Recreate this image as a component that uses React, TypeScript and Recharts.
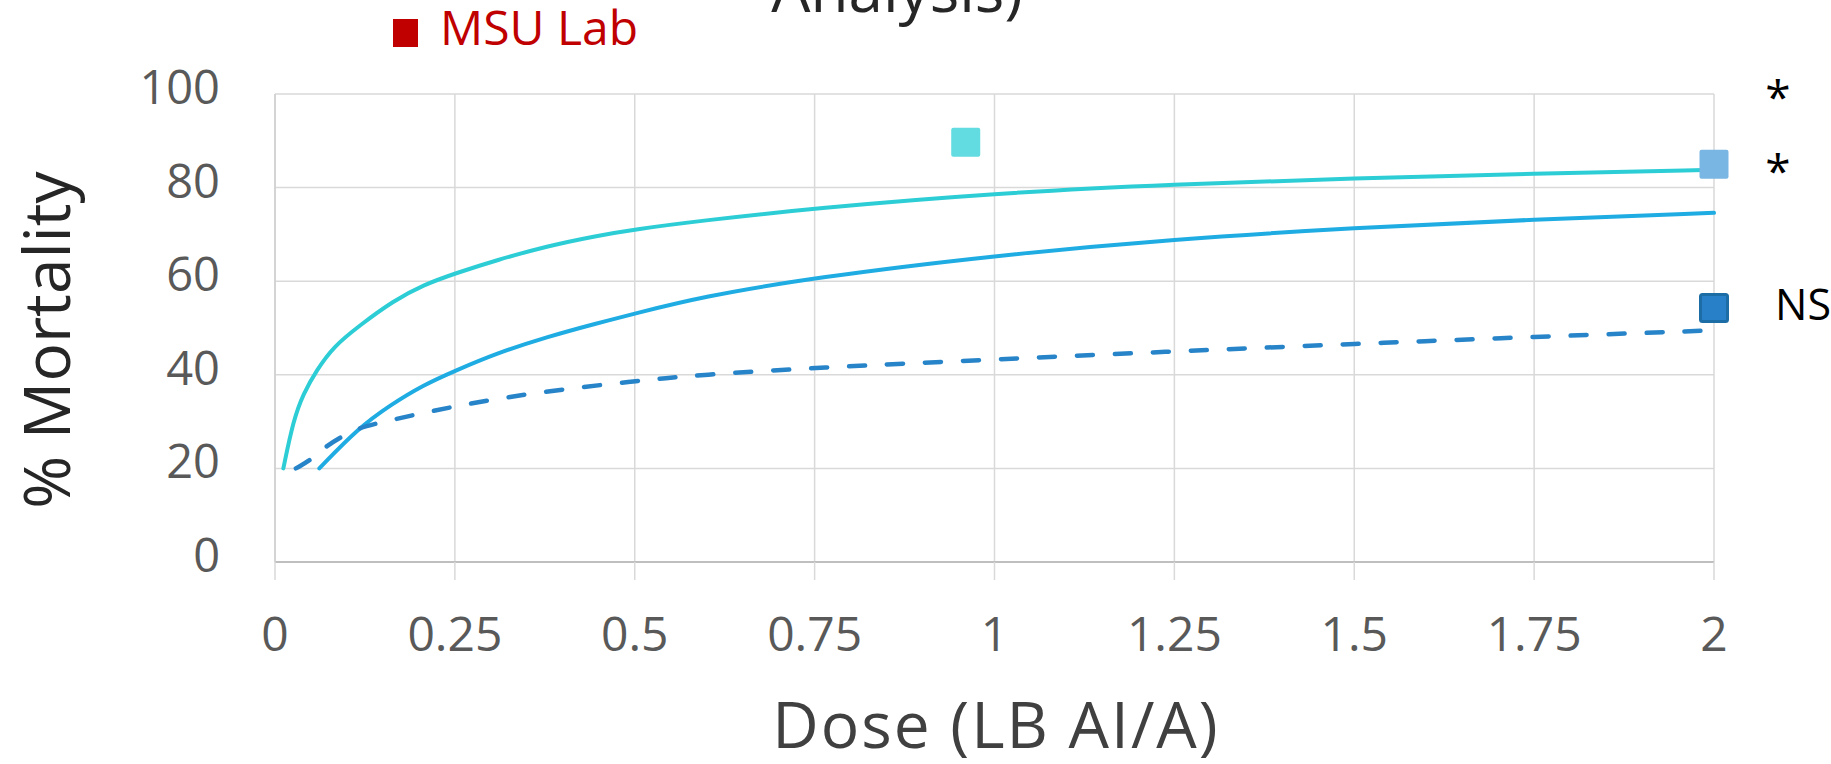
import React from "react";
import {
  CartesianGrid,
  ComposedChart,
  Customized,
  Line,
  ReferenceDot,
  Scatter,
  XAxis,
  YAxis,
} from "recharts";

const doseTicks = [0, 0.25, 0.5, 0.75, 1, 1.25, 1.5, 1.75, 2];
const mortalityTicks = [0, 20, 40, 60, 80, 100];

// fitted curves
const tealDose = [0.0116, 0.0255, 0.0394, 0.058, 0.081, 0.118, 0.1645, 0.206, 0.251, 0.308, 0.378, 0.447, 0.501, 0.591, 0.75, 1, 1.25, 1.5, 1.75, 2];
const tealMortality = [20, 30.3, 36, 41, 46, 50.6, 55.8, 59.2, 61.7, 64.5, 67.5, 69.7, 71.1, 72.9, 75.6, 78.8, 80.7, 82, 83, 83.8];

const blueDose = [0.0616, 0.1158, 0.16, 0.206, 0.251, 0.308, 0.378, 0.447, 0.501, 0.591, 0.75, 1, 1.25, 1.5, 1.75, 2];
const blueMortality = [20, 28.6, 33.5, 37.8, 40.9, 44.6, 48.1, 51, 53.1, 56.6, 60.8, 65.5, 69, 71.4, 73.2, 74.6];

const dashDose = [0.029, 0.051, 0.0695, 0.0927, 0.1158, 0.141, 0.192, 0.251, 0.35, 0.501, 0.591, 0.75, 1, 1.25, 1.5, 1.75, 2];
const dashMortality = [20, 21.9, 24.6, 26.8, 28.6, 29.6, 31.4, 33.3, 36, 38.7, 40, 41.5, 43.3, 45, 46.6, 48.1, 49.5];

// observed points
const obsTeal = [{ x: 0.96, y: 89.7 }];
const obsLight = [{ x: 2, y: 85 }];
const obsDark = [{ x: 2, y: 54.3 }];

const noteLabels = ["*", "*", "NS"];
const noteMortality = [101.4, 85.7, 54.9];

const zip = (xs: number[], ys: number[]) => xs.map((x, i) => ({ x, y: ys[i] }));
const tealData = zip(tealDose, tealMortality);
const blueData = zip(blueDose, blueMortality);
const dashData = zip(dashDose, dashMortality);

const FONT = "'Open Sans', sans-serif";

const square =
  (fill: string, size: number, stroke?: string) =>
  (p: any) =>
    (
      <rect
        x={p.cx - size / 2}
        y={p.cy - size / 2}
        width={size}
        height={size}
        rx={2}
        fill={fill}
        stroke={stroke || "none"}
        strokeWidth={stroke ? 3 : 0}
      />
    );

const YTick = (p: any) => (
  <text
    x={p.x}
    y={p.y - 7 + 17}
    textAnchor="end"
    fill="#595959"
    fontSize={47}
    fontFamily={FONT}
  >
    {p.payload.value}
  </text>
);

const Decor = () => (
  <g fontFamily={FONT}>
    <text x={897} y={12} textAnchor="middle" fontSize={62} fill="#262626">
      Analysis)
    </text>
    <rect x={393} y={19} width={25} height={28} fill="#C00000" />
    <text x={440} y={45} fontSize={48} fill="#C00000">
      MSU Lab
    </text>
    <text
      x={70}
      y={340}
      transform="rotate(-90, 70, 340)"
      textAnchor="middle"
      fontSize={64}
      fill="#262626"
    >
      % Mortality
    </text>
    <text x={996} y={748} textAnchor="middle" fontSize={64} letterSpacing={2} fill="#404040">
      Dose (LB AI/A)
    </text>
  </g>
);

export default function App() {
  return (
    <div style={{ position: "absolute", left: 0, top: 0, width: 1831, height: 764, background: "#fff" }}>
      <ComposedChart width={1831} height={764} margin={{ top: 94, right: 117, bottom: 0, left: 0 }}>
        <CartesianGrid stroke="#d9d9d9" strokeWidth={1.5} />
        <XAxis
          dataKey="x"
          type="number"
          domain={[0, 2]}
          ticks={doseTicks}
          interval={0}
          height={202}
          tickSize={18}
          tickMargin={37}
          axisLine={{ stroke: "#bfbfbf", strokeWidth: 2 }}
          tickLine={{ stroke: "#d9d9d9", strokeWidth: 1.5 }}
          tick={{ fill: "#595959", fontSize: 48, fontFamily: FONT }}
        />
        <YAxis
          type="number"
          domain={[0, 100]}
          ticks={mortalityTicks}
          interval={0}
          width={275}
          tickSize={0}
          tickMargin={55}
          axisLine={{ stroke: "#cfcfcf", strokeWidth: 1.5 }}
          tickLine={false}
          tick={<YTick />}
        />
        <Line
          data={tealData}
          dataKey="y"
          type="basis"
          stroke="#2DCDD6"
          strokeWidth={4}
          strokeLinecap="round"
          dot={false}
          isAnimationActive={false}
        />
        <Line
          data={blueData}
          dataKey="y"
          type="basis"
          stroke="#1FACE3"
          strokeWidth={4}
          strokeLinecap="round"
          dot={false}
          isAnimationActive={false}
        />
        <Line
          data={dashData}
          dataKey="y"
          type="basis"
          stroke="#2784C8"
          strokeWidth={4.5}
          strokeLinecap="round"
          strokeDasharray="16 22"
          dot={false}
          isAnimationActive={false}
        />
        <Scatter data={obsTeal} dataKey="y" shape={square("#62DCE0", 29)} isAnimationActive={false} />
        <Scatter data={obsLight} dataKey="y" shape={square("#7AB6E4", 29)} isAnimationActive={false} />
        <Scatter data={obsDark} dataKey="y" shape={square("#2880C8", 27, "#1C6DA6")} isAnimationActive={false} />
        {noteLabels.map((t, i) => (
          <ReferenceDot
            key={i}
            x={2}
            y={noteMortality[i]}
            r={0}
            ifOverflow="visible"
            shape={(p: any) => (
              <text
                x={t === "*" ? p.cx + 64 : p.cx + 61}
                y={t === "*" ? p.cy + 27 : p.cy + 15}
                textAnchor={t === "*" ? "middle" : "start"}
                fontSize={t === "*" ? 46 : 43}
                fontFamily={FONT}
                fill="#000"
              >
                {t}
              </text>
            )}
          />
        ))}
        <Customized component={Decor} />
      </ComposedChart>
    </div>
  );
}
